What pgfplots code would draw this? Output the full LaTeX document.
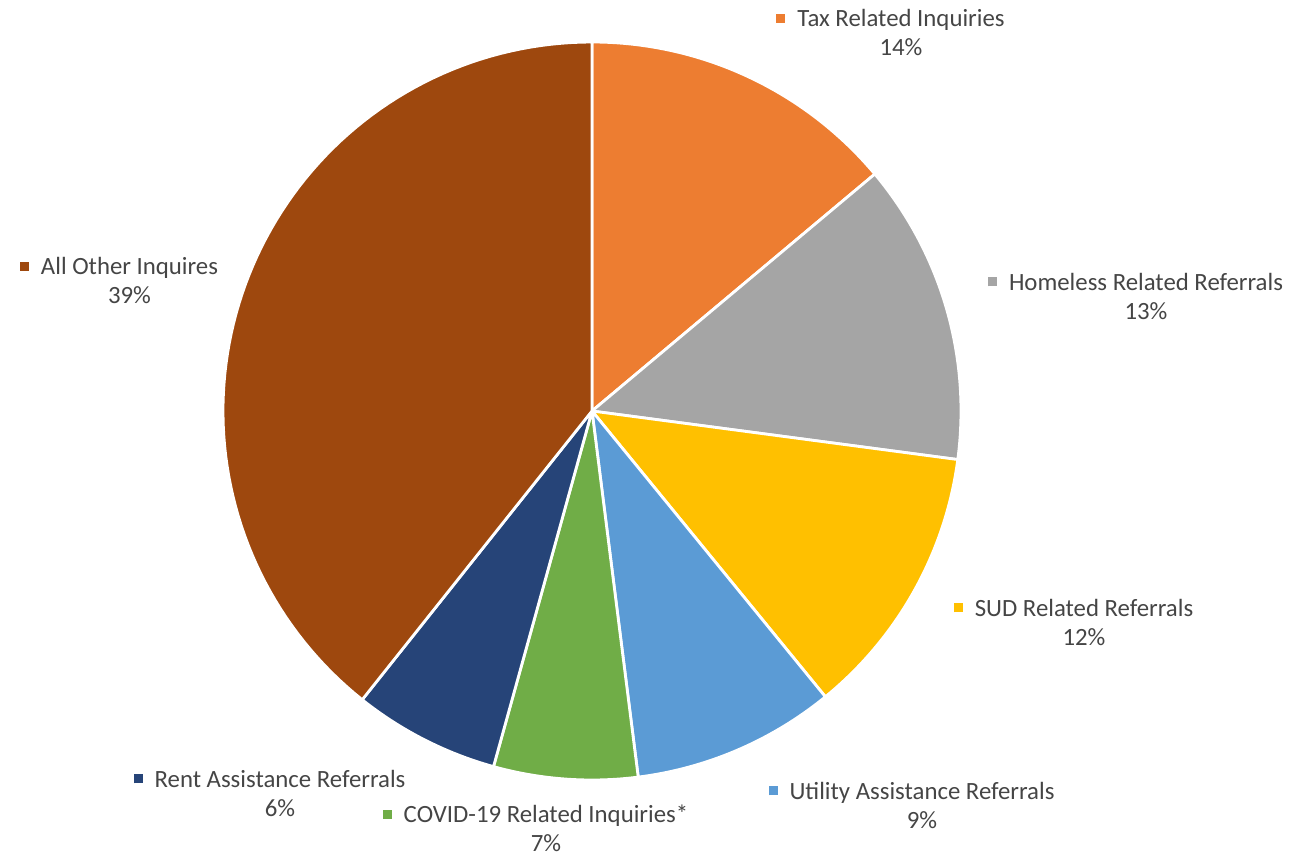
\documentclass[border=0pt]{standalone}
\usepackage{pgfplots}
\pgfplotsset{compat=1.18}
\usepackage{fontspec}
\setmainfont{Carlito}
\definecolor{cTax}{HTML}{ED7D31}
\definecolor{cHome}{HTML}{A5A5A5}
\definecolor{cSUD}{HTML}{FFC000}
\definecolor{cUtil}{HTML}{5B9BD5}
\definecolor{cCovid}{HTML}{70AD47}
\definecolor{cRent}{HTML}{264478}
\definecolor{cOther}{HTML}{9E480E}
\definecolor{txt}{HTML}{454545}
% slice values (percent)
\def\vTax{13.9}
\def\vHome{13.2}
\def\vSUD{12.0}
\def\vUtil{8.9}
\def\vCovid{6.3}
\def\vRent{6.4}
\def\vOther{39.3}
\pgfmathsetmacro\aA{90}
\pgfmathsetmacro\aB{\aA-3.6*\vTax}
\pgfmathsetmacro\aC{\aB-3.6*\vHome}
\pgfmathsetmacro\aD{\aC-3.6*\vSUD}
\pgfmathsetmacro\aE{\aD-3.6*\vUtil}
\pgfmathsetmacro\aF{\aE-3.6*\vCovid}
\pgfmathsetmacro\aG{\aF-3.6*\vRent}
\pgfmathsetmacro\aH{\aG-3.6*\vOther}
\newcommand{\sq}[1]{\llap{\raisebox{1.8pt}{\textcolor{#1}{\rule{4.5pt}{4.5pt}}}\hspace{6pt}}}
\tikzset{lbl/.style={font=\fontsize{12.4pt}{14.5pt}\selectfont, text=txt, align=center, inner sep=0pt}}
\begin{document}
\begin{tikzpicture}
\begin{axis}[
  scale only axis, width=645.5pt, height=429.5pt,
  xmin=0, xmax=1291, ymin=0, ymax=859,
  hide axis, clip=false,
]
\addplot[draw=none, forget plot] coordinates {(0,0) (1291,859)};
\pgfplotsset{slice/.style={draw=white, line width=1.4pt, line join=round, samples=90, variable=\t}}
\addplot[slice, fill=cTax, domain=\aB:\aA] ({592+369*cos(t)},{448+369*sin(t)}) -- (axis cs:592,448) -- cycle;
\addplot[slice, fill=cHome, domain=\aC:\aB] ({592+369*cos(t)},{448+369*sin(t)}) -- (axis cs:592,448) -- cycle;
\addplot[slice, fill=cSUD, domain=\aD:\aC] ({592+369*cos(t)},{448+369*sin(t)}) -- (axis cs:592,448) -- cycle;
\addplot[slice, fill=cUtil, domain=\aE:\aD] ({592+369*cos(t)},{448+369*sin(t)}) -- (axis cs:592,448) -- cycle;
\addplot[slice, fill=cCovid, domain=\aF:\aE] ({592+369*cos(t)},{448+369*sin(t)}) -- (axis cs:592,448) -- cycle;
\addplot[slice, fill=cRent, domain=\aG:\aF] ({592+369*cos(t)},{448+369*sin(t)}) -- (axis cs:592,448) -- cycle;
\addplot[slice, fill=cOther, domain=\aH:\aG] ({592+369*cos(t)},{448+369*sin(t)}) -- (axis cs:592,448) -- cycle;
\node[lbl] at (axis cs:901,826.5) {\sq{cTax}Tax Related Inquiries\\14\%};
\node[lbl] at (axis cs:1146,563) {\sq{cHome}Homeless Related Referrals\\13\%};
\node[lbl] at (axis cs:1084,237) {\sq{cSUD}SUD Related Referrals\\12\%};
\node[lbl] at (axis cs:922,54) {\sq{cUtil}Utility Assistance Referrals\\9\%};
\node[lbl] at (axis cs:546,31) {\sq{cCovid}COVID-19 Related Inquiries*\\7\%};
\node[lbl] at (axis cs:280,66) {\sq{cRent}Rent Assistance Referrals\\6\%};
\node[lbl] at (axis cs:129.5,578.5) {\sq{cOther}All Other Inquires\\39\%};
\end{axis}
\end{tikzpicture}
\end{document}
